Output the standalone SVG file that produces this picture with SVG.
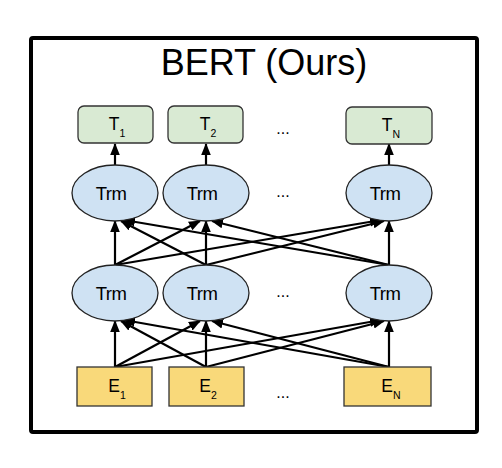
<svg xmlns="http://www.w3.org/2000/svg" width="502" height="468" viewBox="0 0 502 468">
<style>
text{font-family:"Liberation Sans",Arial,sans-serif;fill:#000}
.t{fill:#d9ead3;stroke:#333;stroke-width:1.3}
.e{fill:#f9d97a;stroke:#333;stroke-width:1.3}
.m{fill:#cfe2f3;stroke:#222;stroke-width:1.3}
.lbl{font-size:17.5px;text-anchor:middle}
.trm{font-size:18.5px;text-anchor:middle;letter-spacing:-0.5px}
.sub{font-size:10.5px}
.c line{stroke:#000;stroke-width:2.2;marker-end:url(#ah)}
.dots{font-size:16px;text-anchor:middle}
</style>
<defs>
<marker id="ah" markerUnits="userSpaceOnUse" markerWidth="12" markerHeight="12" viewBox="0 0 12 12" refX="11" refY="6" orient="auto">
<path d="M0,1.2 L12,6 L0,10.8 Z" fill="#000"/>
</marker>
</defs>
<rect width="502" height="468" fill="#fff"/>
<rect id="frame" x="31" y="38" width="446" height="394" rx="2" fill="none" stroke="#000" stroke-width="4"/>
<text x="264" y="75" font-size="36" text-anchor="middle">BERT (Ours)</text>

<g class="c" id="connectors">
<line x1="115" y1="165" x2="115" y2="144"/>
<line x1="206" y1="165" x2="206" y2="144"/>
<line x1="389" y1="165" x2="389" y2="144"/>

<line x1="115" y1="265" x2="115" y2="221"/>
<line x1="115" y1="265" x2="200" y2="221"/>
<line x1="115" y1="265" x2="381" y2="220"/>
<line x1="206" y1="265" x2="206" y2="221"/>
<line x1="206" y1="265" x2="121" y2="221"/>
<line x1="206" y1="265" x2="384" y2="221"/>
<line x1="389" y1="265" x2="389" y2="221"/>
<line x1="389" y1="265" x2="124" y2="220"/>
<line x1="389" y1="265" x2="212" y2="221"/>

<line x1="115" y1="367" x2="115" y2="321"/>
<line x1="115" y1="367" x2="200" y2="321"/>
<line x1="115" y1="367" x2="381" y2="320"/>
<line x1="206" y1="367" x2="206" y2="321"/>
<line x1="206" y1="367" x2="121" y2="321"/>
<line x1="206" y1="367" x2="384" y2="321"/>
<line x1="389" y1="367" x2="389" y2="321"/>
<line x1="389" y1="367" x2="124" y2="320"/>
<line x1="389" y1="367" x2="212" y2="321"/>
</g>

<g id="T1"><rect class="t" x="78" y="106" width="75" height="37" rx="6"/><text class="lbl" x="117" y="130">T<tspan class="sub" dy="7">1</tspan></text></g>
<g id="T2"><rect class="t" x="168" y="106" width="75" height="37" rx="6"/><text class="lbl" x="208" y="130">T<tspan class="sub" dy="7">2</tspan></text></g>
<g id="TN"><rect class="t" x="346" y="107" width="86" height="37" rx="6"/><text class="lbl" x="391" y="131">T<tspan class="sub" dy="7">N</tspan></text></g>
<text class="dots" x="283" y="134">...</text>

<g id="U1"><ellipse class="m" cx="115" cy="193" rx="43" ry="28"/><text class="trm" x="111" y="200">Trm</text></g>
<g id="U2"><ellipse class="m" cx="206" cy="193" rx="43" ry="28"/><text class="trm" x="202" y="200">Trm</text></g>
<g id="UN"><ellipse class="m" cx="389" cy="193" rx="43" ry="28"/><text class="trm" x="385" y="200">Trm</text></g>
<text class="dots" x="283" y="197">...</text>

<g id="L1"><ellipse class="m" cx="115" cy="293" rx="43" ry="28"/><text class="trm" x="111" y="300">Trm</text></g>
<g id="L2"><ellipse class="m" cx="206" cy="293" rx="43" ry="28"/><text class="trm" x="202" y="300">Trm</text></g>
<g id="LN"><ellipse class="m" cx="389" cy="293" rx="43" ry="28"/><text class="trm" x="385" y="300">Trm</text></g>
<text class="dots" x="283" y="297">...</text>

<g id="E1"><rect class="e" x="77" y="367" width="75" height="39"/><text class="lbl" x="117" y="392">E<tspan class="sub" dy="7">1</tspan></text></g>
<g id="E2"><rect class="e" x="169" y="367" width="75" height="39"/><text class="lbl" x="208" y="392">E<tspan class="sub" dy="7">2</tspan></text></g>
<g id="EN"><rect class="e" x="344" y="367" width="87" height="39"/><text class="lbl" x="391" y="392">E<tspan class="sub" dy="7">N</tspan></text></g>
<text class="dots" x="283" y="398">...</text>
</svg>
